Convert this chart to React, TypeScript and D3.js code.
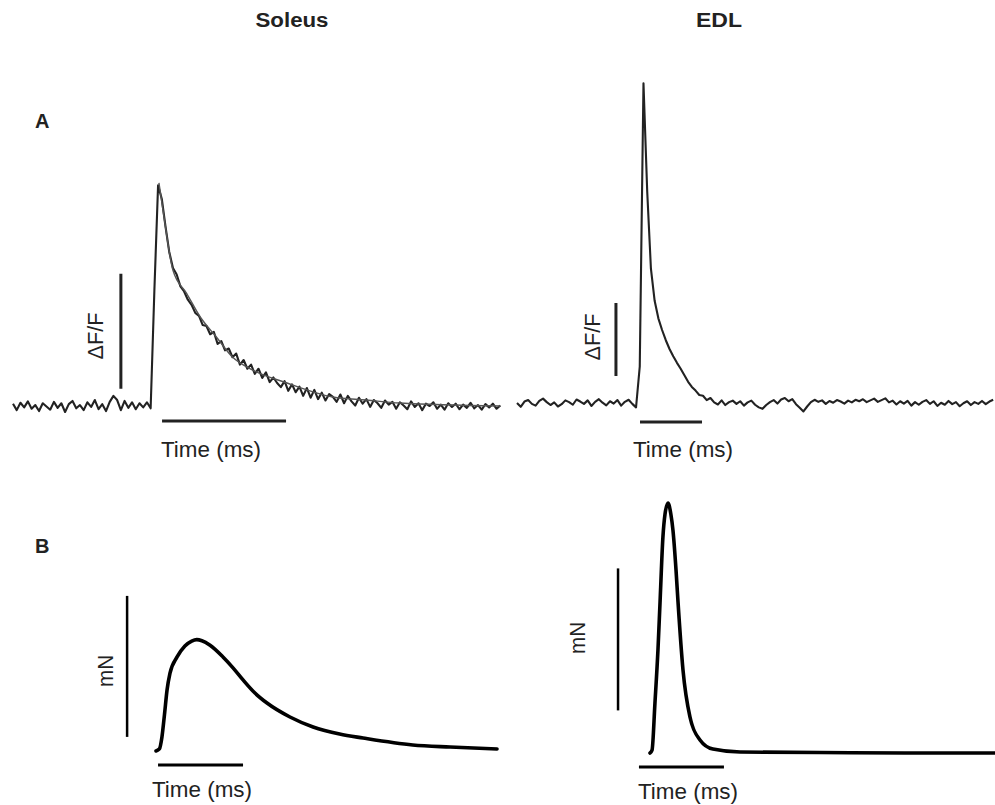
import React from 'react';
import * as d3 from 'd3';

const W = 995;
const H = 805;
const FONT = '"Liberation Sans", Arial, sans-serif';
const INK = '#222';

// Ca2+ transients, sampled every 3 ms (dF/F)
const caStep = 3;
const soleusCa = [
  0.010, -0.018, 0.014, -0.006, 0.020, -0.012, 0.004, -0.022, 0.012, -0.002,
  -0.016, 0.018, -0.008, 0.012, -0.026, 0.008, 0.022, -0.010, 0.004, -0.018,
  0.016, -0.004, 0.026, -0.014, 0.008, -0.022, 0.018, 0.044, 0.026, -0.018,
  0.022, -0.008, 0.016, -0.014, 0.012, -0.006, 0.016, -0.010, 0.50, 0.96,
  0.90, 0.78, 0.67, 0.60, 0.572, 0.520, 0.498, 0.462, 0.440, 0.405,
  0.392, 0.352, 0.348, 0.312, 0.322, 0.270, 0.282, 0.242, 0.250, 0.212,
  0.228, 0.180, 0.200, 0.162, 0.180, 0.140, 0.162, 0.122, 0.146, 0.104,
  0.124, 0.100, 0.082, 0.108, 0.066, 0.094, 0.060, 0.084, 0.044, 0.078,
  0.036, 0.070, 0.030, 0.058, 0.024, 0.052, 0.040, 0.018, 0.050, 0.012,
  0.044, 0.020, 0.002, 0.036, 0.010, 0.030, -0.004, 0.026, 0.012, -0.008,
  0.024, 0.006, 0.018, -0.012, 0.016, 0.002, -0.014, 0.020, -0.004, 0.012,
  -0.018, 0.010, 0.000, 0.016, -0.012, 0.006, -0.016, 0.012, -0.004, 0.010,
  -0.014, 0.006, -0.008, 0.014, -0.010, 0.004, -0.016, 0.008, -0.006, 0.010,
  -0.012, 0.002,
];
const edlCa = [
  0.000, -0.026, 0.010, 0.020, -0.006, -0.018, 0.014, 0.030, 0.006, -0.014,
  0.004, -0.024, -0.008, 0.018, 0.006, -0.012, 0.024, 0.010, -0.006, 0.018,
  -0.020, 0.008, 0.026, 0.002, -0.016, 0.012, -0.004, 0.020, -0.018, 0.008,
  0.022, -0.006, -0.030, 0.25, 2.19, 1.45, 0.92, 0.70, 0.58, 0.50,
  0.43, 0.37, 0.32, 0.275, 0.235, 0.19, 0.145, 0.11, 0.085, 0.055,
  0.050, 0.020, 0.034, 0.004, -0.010, 0.018, -0.014, 0.006, 0.016, -0.006,
  0.012, -0.018, 0.004, 0.016, -0.012, -0.030, -0.040, -0.014, 0.006, 0.020,
  -0.004, 0.024, 0.034, 0.012, 0.026, -0.008, -0.032, -0.058, -0.024, 0.006,
  0.022, 0.008, 0.018, -0.006, 0.014, 0.002, 0.020, 0.010, -0.004, 0.016,
  0.004, 0.022, 0.012, 0.026, 0.006, 0.018, 0.030, 0.008, 0.020, 0.032,
  0.004, 0.016, -0.010, 0.012, -0.004, 0.014, -0.018, 0.006, -0.012, 0.008,
  0.020, -0.006, 0.012, -0.020, 0.002, -0.012, 0.014, -0.008, 0.006, -0.022,
  -0.002, 0.012, -0.014, 0.006, -0.006, 0.014, -0.008, 0.010, 0.022,
];

// exponential fit over the soleus decay
const soleusFitT = [117.7, 121, 129, 140, 151, 164, 177, 193, 221, 258, 285, 312, 393];
const soleusFitV = [0.97, 0.85, 0.59, 0.49, 0.387, 0.30, 0.213, 0.157, 0.10, 0.039, 0.026, 0.013, 0.0];

// twitch force (ms, mN)
const soleusForceT = [0, 2, 3.5, 5, 6.5, 8.2, 12.4, 17, 21, 24, 27, 31.8, 39.4, 45.3, 51.2, 58.2, 65.3, 78.8, 92.4, 108, 121.8, 151, 173, 200.6];
const soleusForceV = [0, 0.15, 1.0, 2.6, 4.33, 5.5, 6.67, 7.45, 7.8, 7.9, 7.82, 7.5, 6.67, 5.9, 5.04, 4.11, 3.4, 2.41, 1.7, 1.2, 0.92, 0.43, 0.28, 0.14];
const edlForceT = [0, 1.2, 2.9, 4.7, 5.9, 7.6, 8.8, 10.6, 12.3, 13.5, 15.3, 16.5, 19.4, 23.5, 29.4, 37, 53, 100, 150, 203];
const edlForceV = [0, 0.2, 3.5, 7.3, 10.6, 15.2, 16.8, 17.6, 16.8, 15.7, 12.9, 10.6, 5.85, 2.54, 0.92, 0.28, 0.07, 0.03, 0.0, 0.0];

// scale bars: [time start, time end] and [value start, value end]
const soleusCaBarT = [120.2, 220.2];
const soleusCaBarV = [0.075, 0.575];
const edlCaBarT = [99.2, 149.2];
const edlCaBarV = [0.185, 0.685];
const soleusForceBarT = [1.2, 51.2];
const soleusForceBarV = [1, 11];
const edlForceBarT = [-6.5, 43.5];
const edlForceBarV = [3, 13];

function sampled(vals: number[], x: d3.ScaleLinear<number, number>, y: d3.ScaleLinear<number, number>) {
  return d3.line<number>().x((_, i) => x(i * caStep)).y((d) => y(d))(vals) || '';
}
function paired(ts: number[], vs: number[], x: d3.ScaleLinear<number, number>, y: d3.ScaleLinear<number, number>) {
  return d3.line<number>().curve(d3.curveMonotoneX).x((d) => x(d)).y((_, i) => y(vs[i]))(ts) || '';
}

function Label({ x, y, text, len, rot }: { x: number; y: number; text: string; len: number; rot?: boolean }) {
  return (
    <text
      transform={rot ? `translate(${x},${y}) rotate(-90)` : `translate(${x},${y})`}
      textAnchor={rot ? 'middle' : 'start'}
      fontFamily={FONT}
      fontSize={22}
      fill={INK}
      textLength={len}
      lengthAdjust="spacingAndGlyphs"
    >
      {text}
    </text>
  );
}

export default function App() {
  // panel A, soleus
  const xSa = d3.scaleLinear().domain([0, 100]).range([13, 137]);
  const ySa = d3.scaleLinear().domain([0, 1]).range([406, 176]);
  // panel A, EDL
  const xEa = d3.scaleLinear().domain([0, 100]).range([517, 641]);
  const yEa = d3.scaleLinear().domain([0, 1]).range([403, 257]);
  // panel B, soleus
  const xSb = d3.scaleLinear().domain([0, 100]).range([156, 326]);
  const ySb = d3.scaleLinear().domain([0, 10]).range([751, 610]);
  // panel B, EDL
  const xEb = d3.scaleLinear().domain([0, 100]).range([650, 820]);
  const yEb = d3.scaleLinear().domain([0, 10]).range([753, 611]);

  return (
    <svg width={W} height={H} style={{ position: 'absolute', left: 0, top: 0, background: '#fff' }}>
      <rect width={W} height={H} fill="#fff" />

      <text x={292} y={27} textAnchor="middle" fontFamily={FONT} fontWeight="bold" fontSize={20} fill={INK} textLength={73} lengthAdjust="spacingAndGlyphs">Soleus</text>
      <text x={719} y={27} textAnchor="middle" fontFamily={FONT} fontWeight="bold" fontSize={20} fill={INK} textLength={46} lengthAdjust="spacingAndGlyphs">EDL</text>
      <text x={35} y={128} fontFamily={FONT} fontWeight="bold" fontSize={20} fill={INK}>A</text>
      <text x={35} y={553} fontFamily={FONT} fontWeight="bold" fontSize={20} fill={INK}>B</text>

      {/* A soleus */}
      <path d={sampled(soleusCa, xSa, ySa)} fill="none" stroke={INK} strokeWidth={2.1} strokeLinejoin="round" />
      <path d={paired(soleusFitT, soleusFitV, xSa, ySa)} fill="none" stroke="#555" strokeWidth={1.4} />
      <line x1={xSa(87)} x2={xSa(87)} y1={ySa(soleusCaBarV[0])} y2={ySa(soleusCaBarV[1])} stroke={INK} strokeWidth={3} />
      <line x1={xSa(soleusCaBarT[0])} x2={xSa(soleusCaBarT[1])} y1={ySa(-0.065)} y2={ySa(-0.065)} stroke={INK} strokeWidth={3} />
      <Label x={103} y={336} text="ΔF/F" len={47} rot />
      <Label x={161} y={457} text="Time (ms)" len={100} />

      {/* A EDL */}
      <path d={sampled(edlCa, xEa, yEa)} fill="none" stroke={INK} strokeWidth={2.1} strokeLinejoin="round" />
      <line x1={xEa(79.8)} x2={xEa(79.8)} y1={yEa(edlCaBarV[0])} y2={yEa(edlCaBarV[1])} stroke={INK} strokeWidth={3} />
      <line x1={xEa(edlCaBarT[0])} x2={xEa(edlCaBarT[1])} y1={yEa(-0.13)} y2={yEa(-0.13)} stroke={INK} strokeWidth={3} />
      <Label x={600} y={337} text="ΔF/F" len={47} rot />
      <Label x={633} y={457} text="Time (ms)" len={100} />

      {/* B soleus */}
      <path d={paired(soleusForceT, soleusForceV, xSb, ySb)} fill="none" stroke="#000" strokeWidth={3.6} strokeLinecap="round" />
      <line x1={xSb(-17)} x2={xSb(-17)} y1={ySb(soleusForceBarV[0])} y2={ySb(soleusForceBarV[1])} stroke="#000" strokeWidth={2.5} />
      <line x1={xSb(soleusForceBarT[0])} x2={xSb(soleusForceBarT[1])} y1={ySb(-1)} y2={ySb(-1)} stroke="#000" strokeWidth={3} />
      <Label x={113} y={671} text="mN" len={32} rot />
      <Label x={152} y={797} text="Time (ms)" len={100} />

      {/* B EDL */}
      <path d={paired(edlForceT, edlForceV, xEb, yEb)} fill="none" stroke="#000" strokeWidth={3.6} strokeLinecap="round" />
      <line x1={xEb(-18.8)} x2={xEb(-18.8)} y1={yEb(edlForceBarV[0])} y2={yEb(edlForceBarV[1])} stroke="#000" strokeWidth={2.5} />
      <line x1={xEb(edlForceBarT[0])} x2={xEb(edlForceBarT[1])} y1={yEb(-0.99)} y2={yEb(-0.99)} stroke="#000" strokeWidth={3} />
      <Label x={585} y={638} text="mN" len={32} rot />
      <Label x={638} y={799} text="Time (ms)" len={100} />
    </svg>
  );
}
